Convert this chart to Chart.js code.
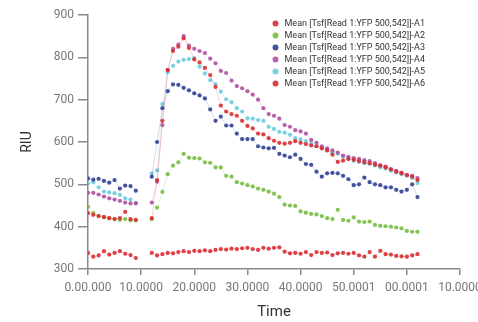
<!DOCTYPE html>
<html>
<head>
<meta charset="utf-8">
<script src="https://cdn.jsdelivr.net/npm/chart.js@4.4.0/dist/chart.umd.min.js"></script>
<style>
  html, body { margin: 0; padding: 0; background: #ffffff; }
  #wrap { width: 478px; height: 322px; }
</style>
</head>
<body>
<div id="wrap"><canvas id="c" width="478" height="322"></canvas></div>
<script>
// ---- data ----
const times = [0,1,2,3,4,5,6,7,8,9,
  12,13,14,15,16,17,18,19,20,21,22,23,24,25,26,27,28,29,30,31,32,33,34,35,36,37,
  38,39,40,41,42,43,44,45,46,47,48,49,50,51,52,53,54,55,56,57,58,59,60,61,62];

const seriesLabels = [
  "Mean [Tsf[Read 1:YFP 500,542]]-A1",
  "Mean [Tsf[Read 1:YFP 500,542]]-A2",
  "Mean [Tsf[Read 1:YFP 500,542]]-A3",
  "Mean [Tsf[Read 1:YFP 500,542]]-A4",
  "Mean [Tsf[Read 1:YFP 500,542]]-A5",
  "Mean [Tsf[Read 1:YFP 500,542]]-A6"
];

const a1 = [432,428,425,423,420,418,420,435,418,416,
  420,510,650,770,815,825,845,822,795,788,775,758,730,686,672,666,662,650,638,632,
  620,618,609,603,598,596,598,602,598,595,592,590,585,580,570,553,556,560,558,555,
  552,550,546,544,540,535,530,526,522,518,510];
const a2 = [447,432,425,422,420,418,416,418,415,415,
  418,445,482,524,544,552,572,563,562,561,552,551,540,540,520,518,505,502,498,495,
  490,487,483,478,470,452,450,449,436,433,430,429,425,420,418,440,416,414,422,412,
  411,412,404,402,401,400,398,396,390,388,388];
const a3 = [514,511,513,508,504,510,490,497,496,485,
  518,600,680,720,736,735,728,722,715,710,703,677,650,660,639,639,620,607,607,607,
  590,587,585,586,572,568,564,570,560,548,546,530,518,526,527,526,520,512,498,500,
  516,505,500,498,493,493,487,483,487,500,470];
const a4 = [480,480,476,471,467,464,461,457,455,455,
  457,506,640,770,820,830,850,828,820,815,810,797,786,768,763,745,732,727,720,712,
  700,680,666,662,655,640,636,628,625,620,605,598,590,585,580,575,568,565,562,560,
  557,555,550,545,542,536,532,528,522,520,515];
const a5 = [502,505,493,483,481,479,475,467,464,456,
  526,533,690,765,780,790,794,796,798,778,762,746,737,719,701,694,680,672,656,655,
  652,650,636,631,624,622,617,609,606,602,596,590,585,580,575,572,565,560,556,553,
  550,548,545,540,537,532,528,524,520,515,503];
const a6 = [338,329,332,342,334,338,342,336,333,326,
  338,332,335,338,337,340,342,340,343,342,344,342,345,347,346,348,347,349,350,347,
  345,350,348,350,351,341,337,338,336,340,333,340,338,339,333,337,338,336,338,332,
  329,340,329,343,335,334,331,330,329,332,335];

const xTickLabels = ["0.00.000","10.0000","20.0000","30.0000","40.0000","50.0001","00.0001","10.0000"];

const colors = ["#e8262b","#7dc242","#35449a","#b455a5","#6fd1e0","#e8262b"];
const pointColors = ["rgba(220,45,50,0.9)","rgba(120,190,65,0.9)","rgba(50,64,150,0.9)",
                     "rgba(176,82,160,0.9)","rgba(108,205,220,0.9)","rgba(220,45,50,0.9)"];
const lineColors = ["rgba(232,38,43,0.2)","rgba(125,194,66,0.2)","rgba(53,68,154,0.2)",
                    "rgba(180,85,165,0.2)","rgba(111,209,224,0.2)","rgba(232,38,43,0.2)"];

// build points; break the line where the reading pause is (no reading between 9 and 12)
function toPoints(vals) {
  const pts = [];
  for (let i = 0; i < times.length; i++) {
    if (i > 0 && times[i] - times[i-1] > 1.5) pts.push({x: (times[i] + times[i-1]) / 2, y: null});
    pts.push({x: times[i], y: vals[i]});
  }
  return pts;
}

const allSeries = [a1, a2, a3, a4, a5, a6];
const datasets = allSeries.map((vals, k) => ({
  label: seriesLabels[k],
  data: toPoints(vals),
  backgroundColor: colors[k],
  borderColor: lineColors[k],
  borderWidth: 1,
  pointRadius: 2.1,
  pointBorderWidth: 0,
  pointBackgroundColor: pointColors[k],
  pointBorderColor: pointColors[k],
  pointStyle: 'circle',
  tension: 0,
  spanGaps: false
}));

const legendPlacer = {
  id: 'legendPlacer',
  afterLayout(chart) {
    const lg = chart.legend;
    if (!lg) return;
    const w = lg.width;
    lg.left = 268; lg.right = 268 + w;
    lg.top = 16; lg.bottom = 16 + 120;
    lg.height = 120;
  }
};

Chart.defaults.font.family = "Roboto, 'DejaVu Sans', sans-serif";

new Chart(document.getElementById('c'), {
  type: 'line',
  data: { datasets },
  plugins: [legendPlacer],
  options: {
    responsive: false,
    animation: false,
    layout: { padding: { left: 0, right: 18, top: 15, bottom: 0 } },
    plugins: {
      tooltip: { enabled: false },
      legend: {
        position: 'chartArea',
        align: 'start',
        labels: {
          usePointStyle: true,
          pointStyle: 'circle',
          boxWidth: 9,
          boxHeight: 4.2,
          padding: 3,
          color: '#333333',
          font: { size: 9, family: "Roboto" }
        }
      }
    },
    scales: {
      x: {
        type: 'linear',
        min: 0, max: 70,
        offset: false,
        afterFit(scale) { scale.height = 53; scale.paddingRight = 0; },
        grid: { display: true, drawOnChartArea: false, drawTicks: true, tickLength: 6, color: '#8a8a8a', lineWidth: 1.5 },
        border: { display: true, color: '#8a8a8a', width: 1.5 },
        ticks: {
          stepSize: 10,
          autoSkip: false,
          maxRotation: 0,
          padding: 6,
          color: '#777777',
          font: { size: 12 },
          callback: (v) => xTickLabels[Math.round(v / 10)]
        },
        title: { display: true, text: 'Time', color: '#333333', font: { size: 15 }, padding: { top: 0, bottom: 1 } }
      },
      y: {
        min: 300, max: 900,
        afterFit(scale) { scale.width = 88; },
        grid: { display: true, drawOnChartArea: false, drawTicks: true, tickLength: 10, color: '#8a8a8a', lineWidth: 1.5 },
        border: { display: true, color: '#8a8a8a', width: 1.5 },
        ticks: { stepSize: 100, padding: 4, color: '#777777', font: { size: 12 } },
        title: { display: true, text: 'RIU', color: '#333333', font: { size: 14 }, padding: { top: 19, bottom: 0 } }
      }
    }
  }
});
</script>
</body>
</html>
